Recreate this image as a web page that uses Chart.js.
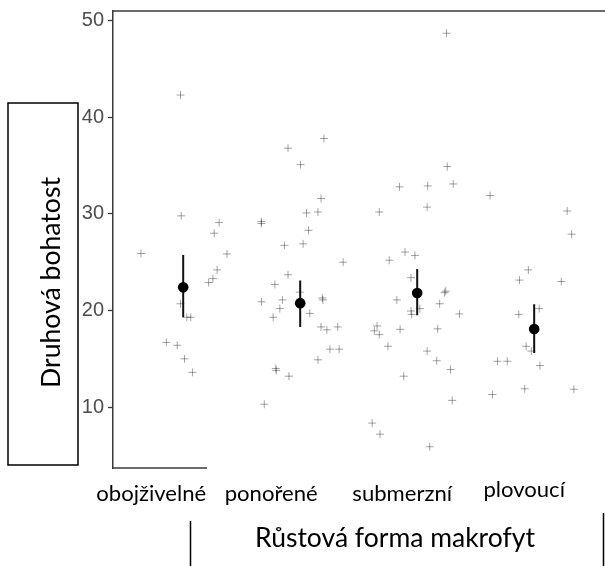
<!DOCTYPE html>
<html>
<head>
<meta charset="utf-8">
<script src="https://cdn.jsdelivr.net/npm/chart.js@4"></script>
<style>
  html, body { margin: 0; padding: 0; background: #fff; overflow: hidden; }
  canvas { display: block; }
</style>
</head>
<body>
<canvas id="graf" width="605" height="566"></canvas>
<script>
// kategorie (růstová forma) a osa y
const categories = ['obojživelné', 'ponořené', 'submerzní', 'plovoucí'];
const yTicks = [10, 20, 30, 40, 50];

// jednotlivá pozorování: x = kategorie + jitter, y = druhová bohatost
const obojX = [0.977, 0.983, 1.307, 1.265, 0.639, 1.374, 1.290, 1.254, 1.217, 0.977, 1.031, 1.065, 0.856, 0.949, 1.011, 1.079];
const obojY = [42.3, 29.8, 29.1, 28.0, 25.9, 25.85, 24.2, 23.3, 22.9, 20.7, 19.3, 19.3, 16.7, 16.4, 15.0, 13.6];

const ponoX = [2.203, 1.896, 2.003, 2.178, 2.054, 2.152, 1.668, 1.668, 2.071, 1.865, 2.025, 2.367, 1.896, 1.784, 1.997, 1.670,
  1.848, 2.189, 2.194, 1.826, 2.082, 1.769, 2.178, 2.228, 2.321, 2.254, 2.333, 2.152, 1.792, 1.795, 1.904, 1.693];
const ponoY = [37.8, 36.8, 35.1, 31.6, 30.1, 30.2, 29.2, 29.0, 28.3, 26.75, 26.9, 25.0, 23.7, 22.7, 21.9, 20.9,
  21.1, 21.3, 21.1, 20.2, 19.7, 19.3, 18.3, 18.0, 18.3, 16.0, 16.0, 14.9, 14.0, 13.8, 13.2, 10.3];

const submX = [3.251, 3.257, 2.849, 3.090, 3.308, 3.085, 2.676, 2.896, 2.981, 2.761, 2.947, 3.234, 3.244, 2.826, 3.192, 3.023, 2.947,
  2.953, 3.361, 2.657, 2.634, 2.676, 2.854, 3.175, 2.750, 3.085, 3.167, 3.285, 2.885, 3.299, 2.615, 2.682, 3.107];
const submY = [48.7, 34.9, 32.8, 32.9, 33.1, 30.7, 30.2, 26.05, 25.7, 25.2, 23.4, 21.85, 22.0, 21.1, 20.7, 20.2, 19.95,
  19.6, 19.65, 18.4, 17.9, 17.5, 18.05, 18.1, 16.3, 15.8, 14.8, 13.9, 13.2, 10.7, 8.35, 7.2, 5.9];

const plovX = [3.623, 4.282, 4.320, 3.950, 3.874, 4.232, 4.043, 3.868, 3.931, 3.976, 3.686, 3.770, 4.049, 3.919, 4.339, 3.643];
const plovY = [31.9, 30.3, 27.9, 24.2, 23.15, 23.0, 20.2, 19.6, 16.3, 15.8, 14.75, 14.75, 14.3, 11.9, 11.85, 11.3];

// průměry a intervaly
const means = [22.4, 20.76, 21.8, 18.08];
const lower = [19.3, 18.3, 19.5, 15.6];
const upper = [25.75, 23.1, 24.3, 20.66];

function pts(xs, ys) {
    return xs.map((x, i) => ({ x: x, y: ys[i] }));
}

const crossStyle = {
    pointStyle: 'cross',
    pointRadius: 4,
    borderColor: 'rgba(0,0,0,0.36)',
    borderWidth: 1,
    order: 2
};

const datasets = [
    Object.assign({ label: categories[0], data: pts(obojX, obojY) }, crossStyle),
    Object.assign({ label: categories[1], data: pts(ponoX, ponoY) }, crossStyle),
    Object.assign({ label: categories[2], data: pts(submX, submY) }, crossStyle),
    Object.assign({ label: categories[3], data: pts(plovX, plovY) }, crossStyle)
];

categories.forEach(function (c, i) {
    datasets.push({
        label: c + ' interval',
        data: [{ x: i + 1, y: lower[i] }, { x: i + 1, y: upper[i] }],
        showLine: true,
        pointRadius: 0,
        borderColor: '#111',
        borderWidth: 2,
        order: 1
    });
});

datasets.push({
    label: 'průměr',
    data: means.map((m, i) => ({ x: i + 1, y: m })),
    pointStyle: 'circle',
    pointRadius: 5.3,
    backgroundColor: '#000',
    borderWidth: 0,
    order: 0
});

// velikost písma tak, aby text měl danou šířku
function fitSize(ctx, text, family, width) {
    ctx.font = '100px ' + family;
    return 100 * width / ctx.measureText(text).width;
}

const labelFont = 'Lato';
const labelShift = [-32, -29, -15, -10];
const labelBase = [501, 500.5, 500.5, 497];

const decor = {
    id: 'decor',
    afterDraw(chart) {
        const ctx = chart.ctx;
        const a = chart.chartArea;
        const xs = chart.scales.x;
        ctx.save();

        // horní a dolní linka
        ctx.strokeStyle = '#3a3a3a';
        ctx.lineWidth = 1.5;
        ctx.beginPath();
        ctx.moveTo(a.left, a.top);
        ctx.lineTo(chart.width, a.top);
        ctx.moveTo(a.left - 0.75, a.bottom);
        ctx.lineTo(207, a.bottom);
        ctx.stroke();

        // popisky kategorií
        ctx.fillStyle = '#000';
        ctx.textAlign = 'center';
        ctx.textBaseline = 'alphabetic';
        const s = fitSize(ctx, categories[0], labelFont, 110);
        ctx.font = s + 'px ' + labelFont;
        categories.forEach(function (c, i) {
            ctx.fillText(c, xs.getPixelForValue(i + 1) + labelShift[i], labelBase[i]);
        });

        // název osy x
        const t = 'Růstová forma makrofyt';
        ctx.font = fitSize(ctx, t, labelFont, 280) + 'px ' + labelFont;
        ctx.fillText(t, 395, 547);

        // svislé čáry u názvu osy x
        ctx.strokeStyle = '#000';
        ctx.lineWidth = 1.5;
        ctx.beginPath();
        ctx.moveTo(190.5, 521);
        ctx.lineTo(190.5, 566);
        ctx.moveTo(603.5, 513);
        ctx.lineTo(603.5, 566);
        ctx.stroke();

        // název osy y v rámečku
        ctx.strokeRect(8, 103, 70, 362);
        const yt = 'Druhová bohatost';
        ctx.font = fitSize(ctx, yt, labelFont, 211) + 'px ' + labelFont;
        ctx.translate(60, 282.5);
        ctx.rotate(-Math.PI / 2);
        ctx.fillText(yt, 0, 0);
        ctx.restore();
    }
};

new Chart(document.getElementById('graf').getContext('2d'), {
    type: 'scatter',
    data: { datasets: datasets },
    options: {
        responsive: false,
        animation: false,
        devicePixelRatio: 1,
        layout: { padding: { left: 0, top: 11, right: 0, bottom: 98 } },
        plugins: { legend: { display: false }, tooltip: { enabled: false } },
        scales: {
            x: {
                type: 'linear',
                display: false,
                min: 0.4,
                max: 4.56
            },
            y: {
                type: 'linear',
                min: 3.7,
                max: 51,
                afterFit(scale) {
                    scale.width = 113;
                    scale.paddingTop = 0;
                    scale.paddingBottom = 0;
                },
                afterBuildTicks(scale) { scale.ticks = yTicks.map(v => ({ value: v })); },
                ticks: {
                    includeBounds: false,
                    padding: 4,
                    color: '#4d4d4d',
                    font: { family: 'Liberation Sans', size: 20 }
                },
                grid: {
                    drawOnChartArea: false,
                    drawTicks: true,
                    tickLength: 5,
                    tickWidth: 1.3,
                    tickColor: '#3a3a3a'
                },
                border: { display: true, color: '#3a3a3a', width: 1.5 }
            }
        }
    },
    plugins: [decor]
});
</script>
</body>
</html>
